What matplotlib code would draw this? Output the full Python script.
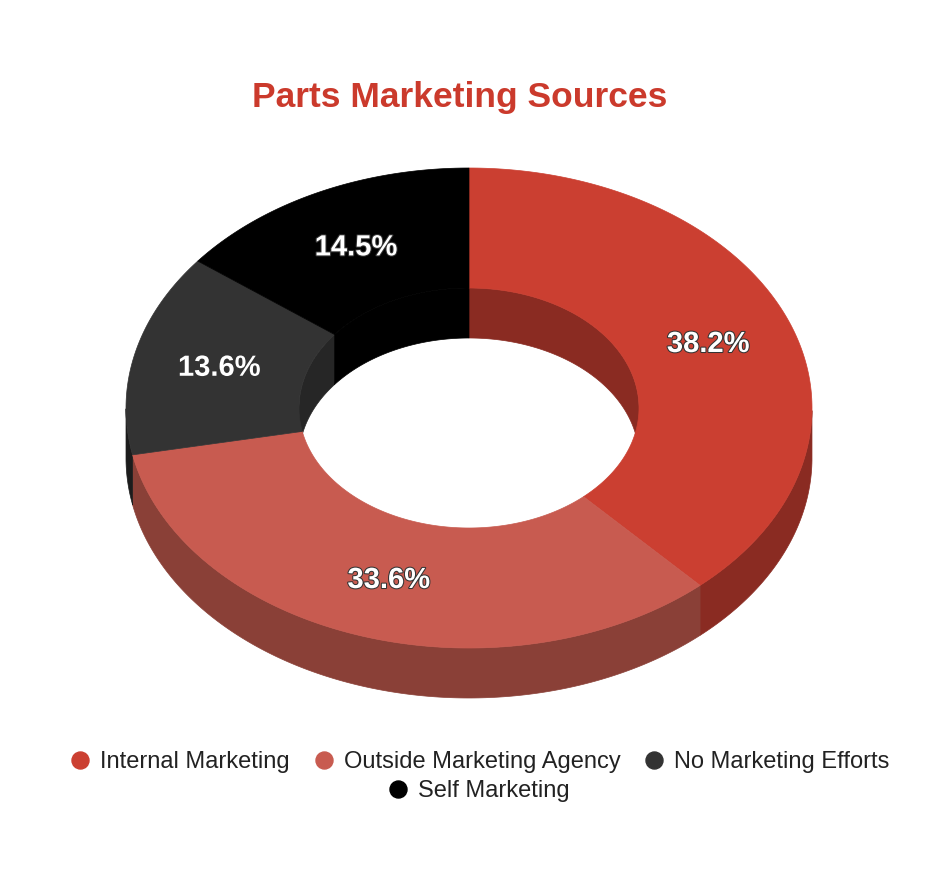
import numpy as np
import matplotlib
matplotlib.use('Agg')
import matplotlib.pyplot as plt
import matplotlib.patheffects as pe

plt.rcParams['font.family'] = ['Liberation Sans', 'DejaVu Sans']

# Datos del grafico
categories = ['Internal Marketing', 'Outside Marketing Agency', 'No Marketing Efforts', 'Self Marketing']
shares = [38.2, 33.6, 13.6, 14.5]
top_colors = ['#cb3f31', '#c85b50', '#333333', '#000000']
side_colors = ['#8a2b22', '#8a4037', '#1c1c1c', '#000000']
inner_colors = ['#8a2b22', '#8a4037', '#262626', '#000000']

# Geometria en pixeles
cx, cy = 469, 408
rx, ry = 343, 240
irx, iry = 170, 120
depth = 50

fig = plt.figure(figsize=(9.48, 8.9), dpi=100)
ax = fig.add_axes([0, 0, 1, 1])
ax.set_xlim(0, 948)
ax.set_ylim(890, 0)
ax.axis('off')


# Punto de la elipse; el angulo va en sentido horario desde las 12
def ellipse(a, b, ang):
    return cx + a * np.sin(ang), cy - b * np.cos(ang)


fractions = np.array(shares) / sum(shares)
edges = np.concatenate([[0], np.cumsum(fractions)]) * 2 * np.pi

# Paredes (interior y exterior) primero, la cara superior las tapa
for i in range(len(shares)):
    ang = np.linspace(edges[i], edges[i + 1], 200)

    # pared exterior: mitad de abajo
    low = ang[(ang >= np.pi / 2) & (ang <= 3 * np.pi / 2)]
    if len(low) > 1:
        x, y = ellipse(rx, ry, low)
        ax.fill(np.r_[x, x[::-1]], np.r_[y, y[::-1] + depth], color=side_colors[i], lw=0.5, zorder=1)

    # pared interior: mitad de arriba
    up = ang[(ang <= np.pi / 2) | (ang >= 3 * np.pi / 2)]
    if len(up) > 1:
        x, y = ellipse(irx, iry, up)
        ax.fill(np.r_[x, x[::-1]], np.r_[y, y[::-1] + depth], color=inner_colors[i], lw=0.5, zorder=1)

# Cara superior
for i in range(len(shares)):
    ang = np.linspace(edges[i], edges[i + 1], 200)
    xo, yo = ellipse(rx, ry, ang)
    xi, yi = ellipse(irx, iry, ang)
    ax.fill(np.r_[xo, xi[::-1]], np.r_[yo, yi[::-1]], color=top_colors[i], lw=0.5, zorder=2)

    mid = (edges[i] + edges[i + 1]) / 2
    tx, ty = ellipse((rx + irx) / 2, (ry + iry) / 2, mid)
    ax.text(tx, ty + 1, f'{shares[i]}%', color='white', fontsize=21, fontweight='bold',
            ha='center', va='center', zorder=3,
            path_effects=[pe.withStroke(linewidth=1.5, foreground='#333333')])

ax.text(459.5, 98, 'Parts Marketing Sources', color='#cb3a2c', fontsize=25.5, fontweight='bold',
        ha='center', va='center')

# Leyenda a mano, en dos filas centradas
legend_pos = [(80, 760), (324, 760), (654, 760), (398, 789)]
for i, name in enumerate(categories):
    lx, ly = legend_pos[i]
    ax.scatter([lx], [ly], s=150, color=top_colors[i], zorder=3)
    ax.text(lx + 20, ly + 2, name, color='#222222', fontsize=17, ha='left', va='center')

fig.savefig('out.png', dpi=100)
